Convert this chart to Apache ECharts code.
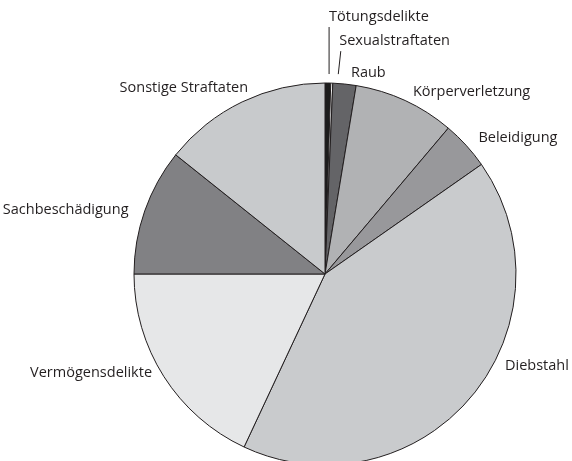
<!DOCTYPE html>
<html>
<head>
<meta charset="utf-8">
<script src="https://cdn.jsdelivr.net/npm/echarts@6/dist/echarts.min.js"></script>
<style>
html,body{margin:0;padding:0;background:#fff;}
#chart{width:572px;height:461px;}
</style>
</head>
<body>
<div id="chart"></div>
<script>
const categories = ['Tötungsdelikte','Sexualstraftaten','Raub','Körperverletzung','Beleidigung','Diebstahl','Vermögensdelikte','Sachbeschädigung','Sonstige Straftaten'];
const shares = [0.48, 0.17, 1.96, 8.56, 4.11, 41.69, 18.04, 10.72, 14.28];
const colors = ['#1c1c1c','#f2f2f2','#646467','#b1b2b4','#98989b','#c9cbcd','#e6e7e8','#818184','#c8cacc'];

const CX = 325, CY = 274, R = 191;
const total = shares.reduce((a,b)=>a+b,0);
// mid angles (clockwise from 12 o'clock), derived from the data
const midAngles = [];
(function(){ let acc=0; shares.forEach(v=>{ midAngles.push((acc+v/2)/total*2*Math.PI); acc+=v; }); })();

// label nudges relative to the default outside anchor
const nudge = [[1,-52],[7,-28],[5,3],[2,3.5],[2,2],[23,-40],[0,-11],[-3,4],[12,-1]];
const lineOff = [[0,0],[-1,1.5],null,null,null,null,null,null,null];

const chart = echarts.init(document.getElementById('chart'), null, {renderer:'canvas'});
const data = categories.map((c,i)=>({
  name:c, value:shares[i],
  itemStyle:{color:colors[i]},
  labelLine: lineOff[i] ? {show:true} : {show:false}
}));
chart.setOption({
  animation:false,
  backgroundColor:'#fff',
  series:[{
    type:'pie',
    center:[CX,CY],
    radius:R,
    startAngle:90,
    clockwise:true,
    avoidLabelOverlap:false,
    itemStyle:{borderColor:'#231f20',borderWidth:1},
    label:{show:true,position:'outside',color:'#231f20',fontFamily:'Open Sans',fontSize:14.5,formatter:'{b}'},
    labelLine:{length:10,length2:0,lineStyle:{color:'#231f20',width:1}},
    labelLayout:function(p){
      const i = p.dataIndex, a = midAngles[i];
      const dx = Math.sin(a), dy = -Math.cos(a);
      const ax = CX + (R+14)*dx, ay = CY + (R+14)*dy;
      const x = ax + nudge[i][0], y = ay + nudge[i][1];
      const res = {x:x, y:y, align: dx<0 ? 'right':'left', verticalAlign:'middle'};
      if (lineOff[i]) {
        const sy = CY + (R+9)*dy;
        res.labelLinePoints = [[x+lineOff[i][0], sy],[x+lineOff[i][1], y+10],[x+lineOff[i][1], y+10]];
      }
      return res;
    },
    emphasis:{disabled:true},
    data:data
  }]
});
</script>
</body>
</html>
